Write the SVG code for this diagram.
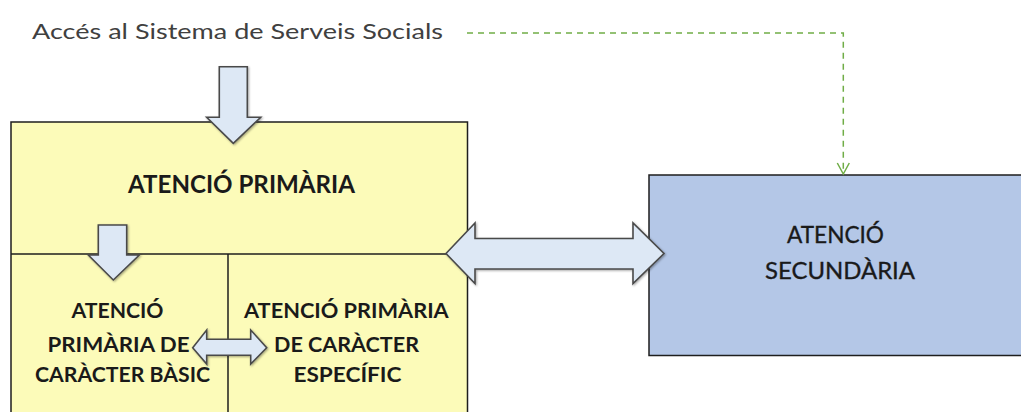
<svg xmlns="http://www.w3.org/2000/svg" width="1021" height="412" viewBox="0 0 1021 412">
  <defs>
    <style>
      .box { stroke: #1e1e1e; stroke-width: 1.5; }
      .primary { fill: #fcfbb9; }
      .secondary { fill: #b4c7e7; }
      .divider { stroke: #1e1e1e; stroke-width: 1.5; fill: none; }
      .block { fill: #dde8f5; stroke: #4a4a4a; stroke-width: 1.6; stroke-linejoin: miter; }
      .lbl { font-family: Lato, "Open Sans", "Liberation Sans", sans-serif; fill: #1a1a1a; text-anchor: middle; }
      .bold { font-weight: 700; }
      .medium { stroke: #1a1a1a; stroke-width: 0.35; }
      .access { font-family: Lato, "Open Sans", "Liberation Sans", sans-serif; fill: #404040; font-size: 22px; }
      .link { fill: none; stroke: #70ad47; stroke-width: 1.5; stroke-dasharray: 6 5; }
      .head { fill: none; stroke: #70ad47; stroke-width: 1.5; }
    </style>
    <filter id="shadow" x="-20%" y="-20%" width="140%" height="140%">
      <feDropShadow dx="1" dy="1" stdDeviation="0.8" flood-color="#000" flood-opacity="0.35"/>
    </filter>
  </defs>

  <rect width="1021" height="412" fill="#ffffff"/>

  <!-- entry label -->
  <g id="access">
    <text class="access" x="32" y="39" textLength="411" lengthAdjust="spacingAndGlyphs">Accés al Sistema de Serveis Socials</text>
  </g>

  <!-- primary care block with its two sub-cells -->
  <g id="primary">
    <rect class="box primary" x="11" y="122" width="456.5" height="300"/>
    <line class="divider" x1="11" y1="254" x2="467.5" y2="254"/>
    <text class="lbl bold" x="241.5" y="193" font-size="24.5" textLength="227" lengthAdjust="spacingAndGlyphs">ATENCIÓ PRIMÀRIA</text>
  </g>

  <g id="primary-basic">
    <text class="lbl bold" font-size="20.5">
      <tspan x="120" y="318" textLength="92" lengthAdjust="spacingAndGlyphs">ATENCIÓ</tspan>
      <tspan x="121" y="352" textLength="142" lengthAdjust="spacingAndGlyphs">PRIMÀRIA DE</tspan>
      <tspan x="122.5" y="382" textLength="175" lengthAdjust="spacingAndGlyphs">CARÀCTER BÀSIC</tspan>
    </text>
  </g>

  <g id="primary-specific">
    <line class="divider" x1="228" y1="254" x2="228" y2="422"/>
    <text class="lbl bold" font-size="20.5">
      <tspan x="348.5" y="318" textLength="204" lengthAdjust="spacingAndGlyphs">ATENCIÓ PRIMÀRIA</tspan>
      <tspan x="349" y="352" textLength="145" lengthAdjust="spacingAndGlyphs">DE CARÀCTER</tspan>
      <tspan x="347.5" y="382" textLength="108" lengthAdjust="spacingAndGlyphs">ESPECÍFIC</tspan>
    </text>
  </g>

  <!-- secondary care block -->
  <g id="secondary">
    <rect class="box secondary" x="649" y="175" width="390" height="180.5"/>
    <text class="lbl medium" font-size="23.5">
      <tspan x="838.5" y="243" textLength="97" lengthAdjust="spacingAndGlyphs">ATENCIÓ</tspan>
      <tspan x="840" y="279" textLength="150" lengthAdjust="spacingAndGlyphs">SECUNDÀRIA</tspan>
    </text>
  </g>

  <!-- connectors -->
  <g id="connectors">
    <!-- entry into primary care -->
    <polygon class="block" filter="url(#shadow)" points="219.3,66.7 247.3,66.7 247.3,117.3 260.7,117.3 233.3,143.3 206.7,117.3 219.3,117.3"/>
    <!-- primary care down to the basic cell -->
    <polygon class="block" filter="url(#shadow)" points="98.3,225 126.7,225 126.7,255 139.3,255 113.3,280 88.3,255 98.3,255"/>
    <!-- basic <-> specific -->
    <polygon class="block" filter="url(#shadow)" points="192.7,347.7 206.7,330 206.7,339.3 250.7,339.3 250.7,330 266.7,347.7 250.7,364 250.7,355.3 206.7,355.3 206.7,364"/>
    <!-- primary <-> secondary -->
    <polygon class="block" filter="url(#shadow)" points="446,253.5 475,223 475,238.5 633,238.5 633,223 664,253.5 633,283.5 633,269 475,269 475,283.5"/>
    <!-- direct access to secondary care -->
    <path class="link" d="M467,33 H843.3 V173"/>
    <path class="head" d="M837.3,163 L843.3,174 L849.3,163"/>
  </g>
</svg>
